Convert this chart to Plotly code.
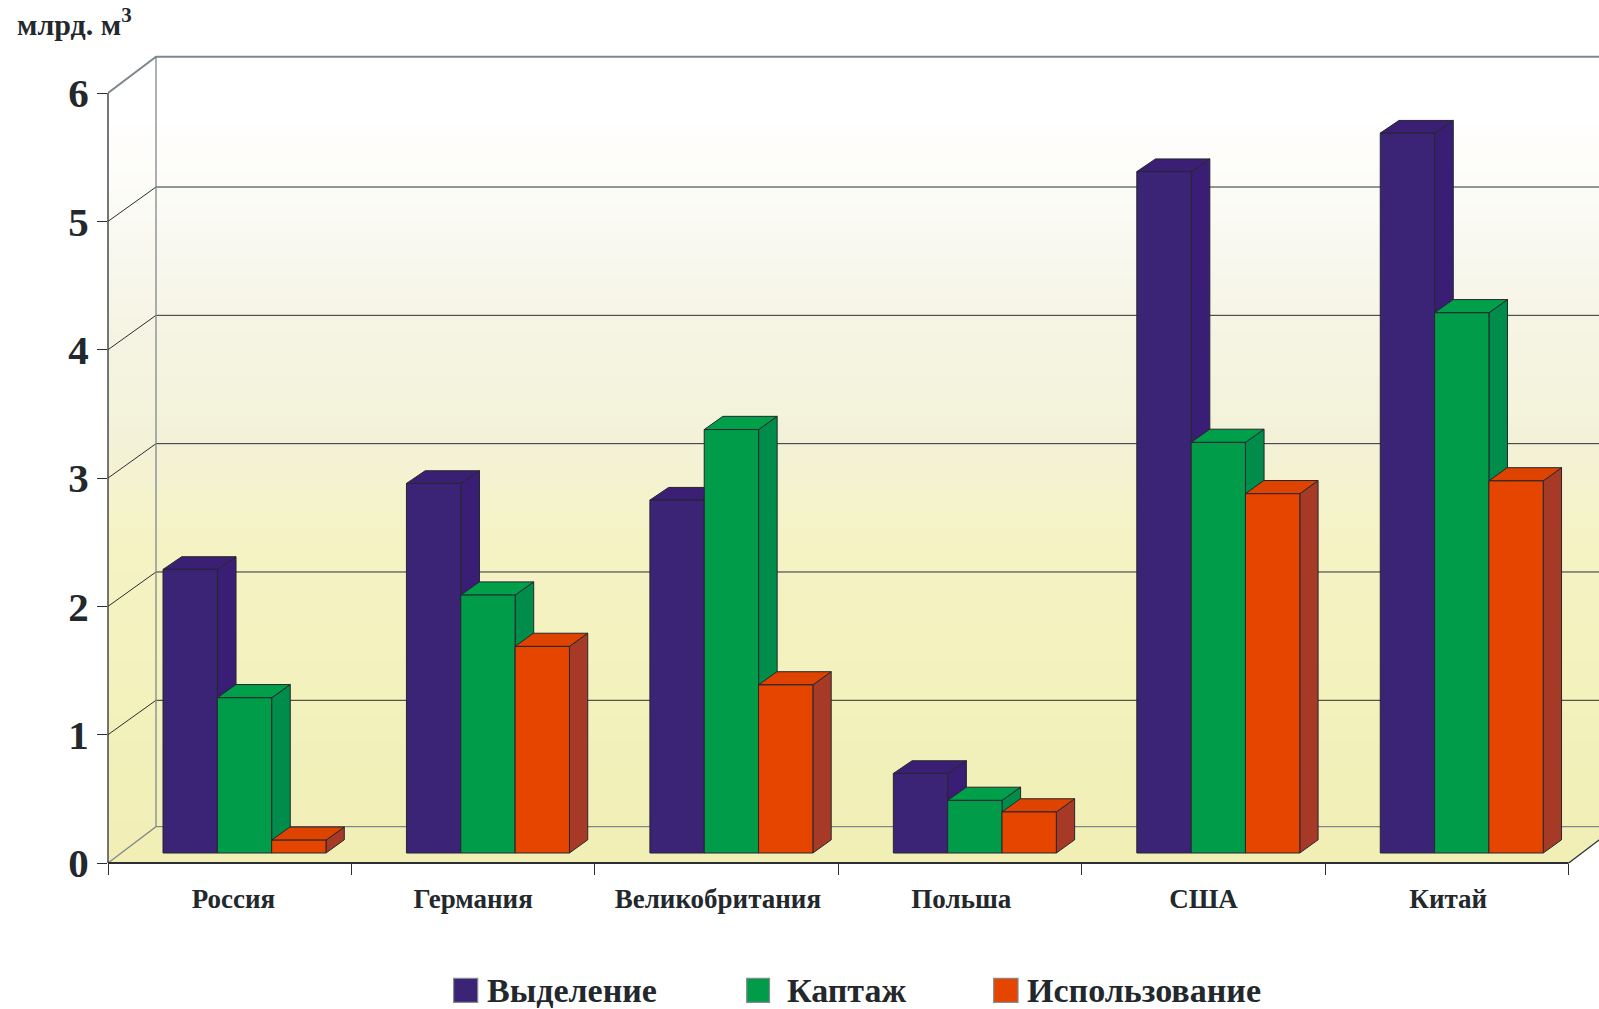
import numpy as np
import plotly.graph_objects as go

# Gas volumes by country, bcm
countries = ["Россия", "Германия", "Великобритания", "Польша", "США", "Китай"]
series_names = ["Выделение", "Каптаж", "Использование"]
vydelenie = [2.21, 2.88, 2.75, 0.62, 5.31, 5.61]
kaptazh = [1.21, 2.01, 3.3, 0.41, 3.2, 4.21]
ispolzovanie = [0.1, 1.61, 1.31, 0.32, 2.8, 2.9]
y_ticks = [0, 1, 2, 3, 4, 5, 6]
label_positions = [0.515, 1.5, 2.505, 3.505, 4.5, 5.505]

FRONT = ["#3B2375", "#009C4A", "#E64500"]
TOP = ["#3A1F75", "#00A04B", "#DE4300"]
SIDE = ["#3A1D75", "#008C4A", "#A63A26"]
EDGE = "#26262E"
GREY = "#7F878C"
DARK = "#2B2E32"
INK = "#22282C"
FONT = "Liberation Serif"

W, H = 1599, 1009
X0, Y0 = 108.0, 863.5       # page position of the chart origin
UX, UY = 243.45, 128.4      # pixels per category / per unit of value
PLOT_TOP = 50.0
xmax = (W - X0) / UX
ymax = (Y0 - PLOT_TOP) / UY

# Oblique projection of the chart box and of the bars inside it
DX, DY = 48.0 / UX, 36.4 / UY
GRID_DY = 34.4 / UY
BAR_DX = [18.7 / UX, 18.6 / UX, 18.3 / UX]
BAR_DY = [12.7 / UY, 13.2 / UY, 13.2 / UY]
BASE = 10.0 / UY
GROUP_LEFT = 55.0 / UX
BAR_W = 54.33 / UX


def px(x):
    return (x - X0) / (W - X0)


def py(y):
    return (Y0 - y) / (Y0 - PLOT_TOP)


def polygons(faces):
    xs, ys = [], []
    for face in faces:
        xs += [p[0] for p in face] + [face[0][0], None]
        ys += [p[1] for p in face] + [face[0][1], None]
    return xs, ys


fig = go.Figure()

# Back and side wall gradient, white at the top fading into pale yellow
wall_stops = [(0.0, "#F1EFB6"), (1.9, "#F4F2BF"), (2.6, "#F5F3C6"), (3.3, "#F3F2D8"),
              (4.3, "#F6F5E6"), (4.8, "#F9F8EF"), (5.2, "#FCFCF7"), (5.6, "#FEFDFB"),
              (5.8, "#FFFFFF"), (6.3, "#FFFFFF")]
top_val = 6 + DY
edges = np.linspace(0, top_val, 241)
centres = (edges[:-1] + edges[1:]) / 2
colorscale = [[s[0] / wall_stops[-1][0], s[1]] for s in wall_stops]
fig.add_trace(go.Heatmap(
    x=[0, xmax], y=edges.tolist(), z=[[c] for c in centres.tolist()],
    zmin=0, zmax=wall_stops[-1][0], colorscale=colorscale,
    showscale=False, hoverinfo="skip", xaxis="x", yaxis="y",
))


def poly(faces, fill, line=None, width=1):
    xs, ys = polygons(faces)
    fig.add_trace(go.Scatter(
        x=xs, y=ys, mode="lines", fill="toself", fillcolor=fill,
        line=dict(color=line or fill, width=width if line else 0),
        hoverinfo="skip", showlegend=False, xaxis="x", yaxis="y",
    ))


def line(xs, ys, color, width):
    fig.add_trace(go.Scatter(
        x=xs, y=ys, mode="lines", line=dict(color=color, width=width),
        hoverinfo="skip", showlegend=False, xaxis="x", yaxis="y",
    ))


# White corners outside the box, and the floor
poly([[(0, 6), (DX, top_val), (0, top_val)]], "#FFFFFF")
poly([[(6, 0), (xmax, 0), (xmax, DY * (xmax - 6) / DX)]], "#FFFFFF")
poly([[(0, 0), (6, 0), (6 + DX, DY), (DX, DY)]], "#F1EFB6")

# Gridlines run along the side wall and then across the back wall
for v in y_ticks[1:-1]:
    line([0, DX, xmax], [v, v + GRID_DY, v + GRID_DY], DARK, 1)
line([0, DX, xmax], [0, DY, DY], GREY, 1.3)
line([0, DX, xmax], [6, top_val, top_val], GREY, 2)
line([DX, DX], [DY, top_val], GREY, 1.3)
line([6, 6 + DX], [0, DY], DARK, 1.3)

# Side and top faces of the bars, back to front from series to series
values = [vydelenie, kaptazh, ispolzovanie]
for j, vals in enumerate(values):
    sides, tops = [], []
    ddx, ddy = BAR_DX[j], BAR_DY[j]
    for i, v in enumerate(vals):
        left = i + GROUP_LEFT + j * BAR_W
        right = left + BAR_W
        h = BASE + v
        sides.append([(right, BASE), (right + ddx, BASE + ddy),
                      (right + ddx, h + ddy), (right, h)])
        tops.append([(left, h), (right, h), (right + ddx, h + ddy),
                     (left + ddx, h + ddy)])
    poly(sides, SIDE[j], EDGE, 1)
    poly(tops, TOP[j], EDGE, 1)

# Front faces sit on an overlaid pair of axes so they cover the neighbouring sides
for j, vals in enumerate(values):
    fig.add_trace(go.Bar(
        x=[i + GROUP_LEFT + (j + 0.5) * BAR_W for i in range(len(countries))],
        y=vals, base=BASE, width=BAR_W, name=series_names[j],
        marker=dict(color=FRONT[j], line=dict(color=EDGE, width=1)),
        showlegend=False, xaxis="x2", yaxis="y2",
    ))

# Axis lines stop at the box corners; legend swatches and captions
shapes = [
    dict(type="line", xref="paper", yref="paper", x0=0, x1=px(X0 + 6 * UX), y0=0, y1=0,
         line=dict(color=DARK, width=2), layer="above"),
    dict(type="line", xref="paper", yref="paper", x0=0, x1=0, y0=0, y1=6 / ymax,
         line=dict(color=DARK, width=1.3), layer="above"),
]
annotations = []
legend_px = [(453.6, 477.7, 484.5), (746.7, 769.5, 785.0), (993.7, 1018.0, 1025.0)]
for name, color, (a, b, t) in zip(series_names, FRONT, legend_px):
    shapes.append(dict(type="rect", xref="paper", yref="paper", x0=px(a), x1=px(b),
                       y0=py(1003), y1=py(979), fillcolor=color,
                       line=dict(color="#858A8E", width=1.2)))
    annotations.append(dict(text=name, xref="paper", yref="paper", x=px(t), y=py(991),
                            xanchor="left", yanchor="middle", showarrow=False,
                            font=dict(family=FONT, size=34, color=INK, weight="bold")))
annotations.append(dict(text="млрд. м<sup>3</sup>", xref="paper", yref="paper",
                        x=px(15), y=py(22), xanchor="left", yanchor="middle", showarrow=False,
                        font=dict(family=FONT, size=30, color=INK, weight="bold")))

fig.update_layout(
    width=W, height=H, autosize=False,
    margin=dict(l=X0, r=0, t=PLOT_TOP, b=H - Y0, pad=0),
    paper_bgcolor="#FFFFFF", plot_bgcolor="#FFFFFF",
    barmode="overlay", showlegend=False,
    font=dict(family=FONT, color=INK),
    shapes=shapes, annotations=annotations,
    xaxis=dict(
        range=[0, xmax], showgrid=False, zeroline=False, showline=False,
        tickmode="array", tickvals=label_positions, ticktext=countries,
        ticks="", ticklabelstandoff=17,
        tickfont=dict(family=FONT, size=27, color=INK, weight="bold"),
        minor=dict(tickmode="array", tickvals=list(range(7)), ticks="outside",
                   ticklen=11, tickwidth=1.3, tickcolor=DARK, showgrid=False),
    ),
    yaxis=dict(
        range=[0, ymax], showgrid=False, zeroline=False, showline=False,
        tickmode="array", tickvals=y_ticks, ticks="outside", ticklen=10,
        tickwidth=1.3, tickcolor=DARK,
        tickfont=dict(family=FONT, size=41, color=INK, weight="bold"),
    ),
    xaxis2=dict(range=[0, xmax], overlaying="x", visible=False),
    yaxis2=dict(range=[0, ymax], overlaying="y", visible=False),
)

fig.write_html("out.html")
